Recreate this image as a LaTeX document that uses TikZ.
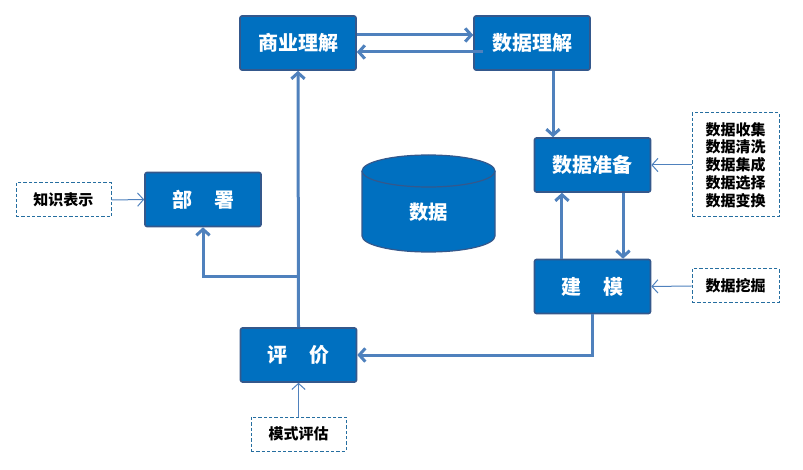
\documentclass[tikz,border=0pt]{standalone}
\usepackage{fontspec}
\setmainfont{Noto Sans CJK SC}
\usetikzlibrary{arrows.meta, positioning, calc}

\definecolor{boxblue}{RGB}{0,112,192}
\definecolor{boxedge}{RGB}{52,88,140}
\definecolor{flowblue}{RGB}{79,129,189}
\definecolor{noteedge}{RGB}{37,110,160}

\begin{document}
\begin{tikzpicture}[x=0.75pt,y=0.75pt,yscale=-1,xscale=1,
	stage/.style={draw=boxedge, line width=1.2pt, fill=boxblue, rounded corners=1.5pt, minimum width=87pt, minimum height=40.5pt, inner sep=0pt, text=white, font=\bfseries\fontsize{15}{18}\selectfont},
	note/.style={draw=noteedge, dash pattern=on 2.5pt off 1.5pt, line width=0.75pt, fill=white, inner sep=0pt, align=center, font=\bfseries\fontsize{11.25}{13.3}\selectfont},
	flow/.style={draw=flowblue, line width=2.25pt, -{Straight Barb[length=4.5pt,width=10pt]}},
	hint/.style={draw=flowblue, line width=0.75pt, -{Straight Barb[length=4.5pt,width=10pt]}}]
	\useasboundingbox (0,0) rectangle (803,470);
	
	% Stages
	\node[stage] (biz) at (298,43) {商业理解};
	\node[stage] (data) at (532,43) {数据理解};
	\node[stage] (prep) at (592.5,165) {数据准备};
	\node[stage] (model) at (592.5,286.5) {建\hspace{1.1em}模};
	\node[stage] (eval) at (298.5,355) {评\hspace{1.1em}价};
	\node[stage] (deploy) at (203,199.5) {部\hspace{1.1em}署};
	
	% Notes
	\node[note, minimum width=65.25pt, minimum height=78pt] (prepnote) at (735.5,165) {数据收集\\数据清洗\\数据集成\\数据选择\\数据变换};
	\node[note, minimum width=65.25pt, minimum height=25.5pt] (modelnote) at (735.5,286) {数据挖掘};
	\node[note, minimum width=71.25pt, minimum height=25.5pt] (deploynote) at (63.5,200) {知识表示};
	\node[note, minimum width=71.25pt, minimum height=25.5pt] (evalnote) at (298.5,434) {模式评估};
	
	% Data store
	\draw[draw=boxedge, line width=0.9pt, fill=boxblue] (362,171) -- (362,236) arc[start angle=180, end angle=0, x radius=66.5, y radius=16] -- (495,171) arc[start angle=0, end angle=-180, x radius=66.5, y radius=16] -- cycle;
	\draw[draw=boxedge, line width=0.9pt] (362,171) arc[start angle=180, end angle=0, x radius=66.5, y radius=16];
	\node[text=white, font=\bfseries\fontsize{14.5}{17}\selectfont] (store) at (428.5,212) {数据};
	
	% Flow
	\draw[flow] ([yshift=-6pt]biz.east) -- ([yshift=-6pt]data.west);
	\draw[flow] ([xshift=7pt,yshift=6.75pt]data.west) -- ([yshift=6.75pt]biz.east);
	\draw[flow] ([xshift=15.75pt]data.south) -- ([xshift=15.75pt]data.south |- prep.north);
	\draw[flow] ([xshift=22.9pt]prep.south) -- ([xshift=22.9pt]model.north);
	\draw[flow] ([xshift=-22.9pt]model.north) -- ([xshift=-22.9pt]prep.south);
	\draw[flow] (model.south) |- (eval.east);
	\draw[flow] (eval.north) -- (biz.south);
	\coordinate (fork) at (298.5,277);
	\draw[flow] (fork) -| (deploy.south);
	
	% Hints
	\draw[hint] (prepnote.west) -- (prep.east);
	\draw[hint] (modelnote.west) -- (model.east);
	\draw[hint] (deploynote.east) -- (deploy.west);
	\draw[hint] (evalnote.north) -- (eval.south);
	
\end{tikzpicture}
\end{document}
